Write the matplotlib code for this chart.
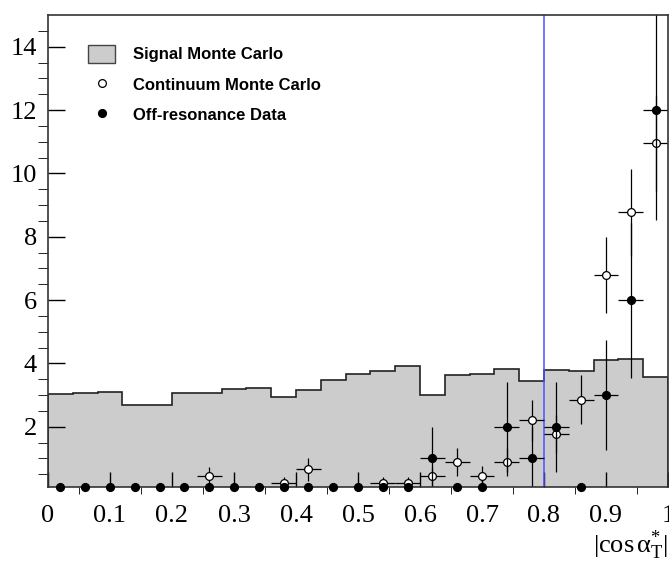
import numpy as np
import matplotlib
matplotlib.use("Agg")
import matplotlib.pyplot as plt
from matplotlib.patches import Patch
from matplotlib.lines import Line2D

# bins of |cos alpha_T*|
edges = np.linspace(0.0, 1.0, 26)
centers = 0.5 * (edges[:-1] + edges[1:])

signal_mc = [3.03, 3.08, 3.10, 2.69, 2.69, 3.06, 3.08, 3.20, 3.22, 2.93,
             3.17, 3.48, 3.68, 3.76, 3.92, 3.02, 3.63, 3.68, 3.83, 3.46,
             3.78, 3.76, 4.10, 4.15, 3.57]

continuum_mc = [0, 0, 0, 0, 0, 0, 0.44, 0, 0, 0.24,
                0.66, 0, 0, 0.24, 0.24, 0.44, 0.88, 0.44, 0.88, 2.20,
                1.77, 2.86, 6.79, 8.77, 10.95]
continuum_err = [0, 0, 0, 0, 0, 0, 0.30, 0, 0, 0.17,
                 0.36, 0, 0, 0.17, 0.17, 0.30, 0.44, 0.32, 0.44, 0.66,
                 0.60, 0.77, 1.20, 1.37, 1.50]

offres_data = [0, 0, 0, 0, 0, 0, 0, 0, 0, 0,
               0, 0, 0, 0, 0, 1, 0, 0, 2, 1,
               2, 0, 3, 6, 12]

cut_value = 0.8
ymin, ymax = 0.1, 15

plt.rcParams['font.family'] = ['Liberation Serif', 'DejaVu Serif']
plt.rcParams['mathtext.fontset'] = 'custom'
plt.rcParams['mathtext.rm'] = 'Liberation Serif'
plt.rcParams['mathtext.it'] = 'Liberation Serif:italic'

fig = plt.figure(figsize=(6.69, 5.68), dpi=100)
ax = fig.add_axes([48/669, 1 - 487/568, 620/669, 472/568])

# signal histogram
ax.stairs(signal_mc, edges, fill=True, facecolor='#cccccc', edgecolor='none')
ax.stairs(signal_mc, edges, color='#222222', lw=1.2)

ax.axvline(cut_value, color='#5050ff', lw=1.1)

halfw = 0.5 * np.diff(edges)

# continuum MC (open circles)
cont = np.array(continuum_mc, dtype=float)
cerr = np.array(continuum_err, dtype=float)
m = cont > 0
ax.errorbar(centers[m], cont[m], yerr=cerr[m], xerr=halfw[m], fmt='none',
            ecolor='black', elinewidth=0.9, capsize=0)
ax.plot(centers[m], cont[m], 'o', ms=5.6, mfc='white', mec='black', mew=0.9)

# off-resonance data (filled circles)
data = np.array(offres_data, dtype=float)
derr = np.sqrt(data)
m = data > 0
ax.errorbar(centers[m], data[m], yerr=derr[m], xerr=halfw[m], fmt='none',
            ecolor='black', elinewidth=0.9, capsize=0)
ax.plot(centers, np.maximum(data, ymin), 'o', ms=5.6, color='black', clip_on=False, zorder=5)

ax.set_xlim(0, 1)
ax.set_ylim(ymin, ymax)

ax.set_xticks(np.arange(0, 1.01, 0.1))
ax.set_xticklabels(['0', '0.1', '0.2', '0.3', '0.4', '0.5', '0.6', '0.7', '0.8', '0.9', '1'])
ax.set_xticks(np.arange(0.05, 1.0, 0.1), minor=True)
ax.set_yticks(np.arange(2, 15, 2))
ax.set_yticks(np.arange(0.5, 15, 0.5), minor=True)
ax.tick_params(direction='in', labelsize=19, width=1, top=False, right=False)
ax.tick_params(axis='x', which='major', length=11, pad=13)
ax.tick_params(axis='x', which='minor', length=5)
ax.tick_params(axis='y', which='major', length=12, pad=8)
ax.tick_params(axis='y', which='minor', length=7)
for s in ax.spines.values():
    s.set_color('#333333')
    s.set_linewidth(1.2)

ax.set_xlabel(r'$\mathrm{|cos\,α^{*}_{T}|}$', loc='right', fontsize=19, labelpad=1)

handles = [
    Patch(facecolor='#cccccc', edgecolor='#444444', lw=1),
    Line2D([], [], ls='none', marker='o', ms=5.6, mfc='white', mec='black', mew=0.9),
    Line2D([], [], ls='none', marker='o', ms=5.6, color='black'),
]
labels = ['Signal Monte Carlo', 'Continuum Monte Carlo', 'Off-resonance Data']
ax.legend(handles, labels, loc='upper left', bbox_to_anchor=(40/620, 1 - 30/472),
          frameon=False, borderpad=0, borderaxespad=0, handlelength=1.62,
          handleheight=1.26, labelspacing=0.76, handletextpad=1.08,
          prop={'family': 'Liberation Sans', 'weight': 'bold', 'size': 12})

fig.savefig('out.png', dpi=100)
